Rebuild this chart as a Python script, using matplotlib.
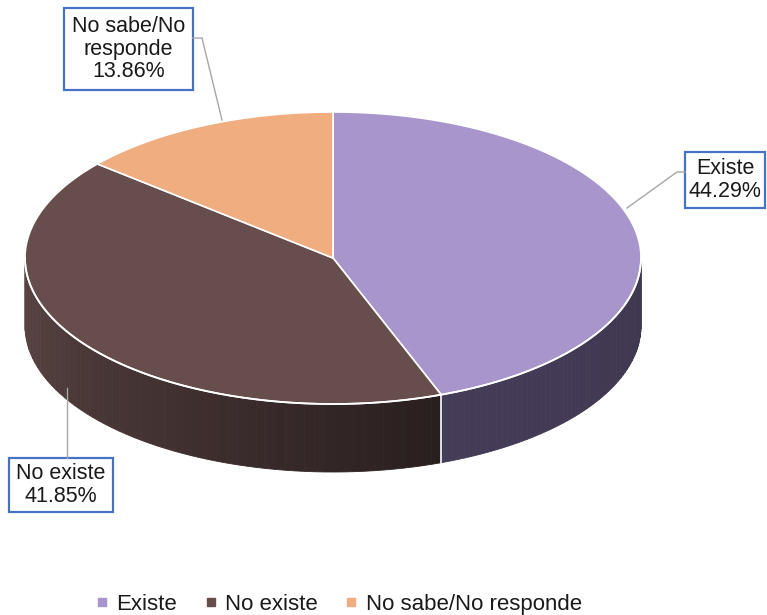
import numpy as np
import matplotlib.pyplot as plt
from matplotlib.patches import Polygon, Rectangle
from matplotlib.lines import Line2D
from matplotlib.colors import to_rgb

plt.rcParams['font.family'] = ['Liberation Sans', 'DejaVu Sans']

# data
categories = ['Existe', 'No existe', 'No sabe/No responde']
values = [44.29, 41.85, 13.86]
labels = ['Existe\n44.29%', 'No existe\n41.85%', 'No sabe/No\nresponde\n13.86%']
top_colors = ['#a895cc', '#674e4c', '#f0ad80']
side_colors = [('#453c58', '#3f3650'), ('#5a4544', '#2a1f1f'), ('#c08a66', '#a0704f')]

# geometry (pixels)
cx, cy, a, b, depth = 333, 258, 308, 146, 68


def pt(theta_deg, dy=0):
    t = np.radians(theta_deg)
    return cx + a * np.cos(t), cy - b * np.sin(t) + dy


fig = plt.figure(figsize=(7.67, 6.15), dpi=100)
ax = fig.add_axes([0, 0, 1, 1])
ax.set_xlim(0, 767)
ax.set_ylim(615, 0)
ax.axis('off')

# slice angles, clockwise from 12 o'clock
fracs = np.array(values) / sum(values)
starts = 90 - 360 * np.concatenate([[0], np.cumsum(fracs)[:-1]])
ends = starts - 360 * fracs

# side walls (front half only: theta between -180 and 0)
for i in range(len(values)):
    lo = max(ends[i], -180)
    hi = min(starts[i], 0)
    if lo >= hi:
        continue
    c1, c2 = np.array(to_rgb(side_colors[i][0])), np.array(to_rgb(side_colors[i][1]))
    n = 60
    ts = np.linspace(lo, hi, n + 1)
    for k in range(n):
        t0, t1 = ts[k], ts[k + 1]
        seg = np.linspace(t0, t1, 4)
        top = [pt(t) for t in seg]
        bot = [pt(t, depth) for t in seg[::-1]]
        # colour runs left to right across the wall
        f = k / (n - 1)
        col = c1 * (1 - f) + c2 * f
        ax.add_patch(Polygon(top + bot, closed=True, facecolor=col, edgecolor=col, lw=0.6))
    # divider line on the wall
    if -180 < hi < 0:
        x0, y0 = pt(hi)
        ax.plot([x0, x0], [y0, y0 + depth], color='white', lw=1.2)

# top face
for i in range(len(values)):
    ts = np.linspace(starts[i], ends[i], 200)
    verts = [(cx, cy)] + [pt(t) for t in ts]
    ax.add_patch(Polygon(verts, closed=True, facecolor=top_colors[i],
                         edgecolor='white', lw=1.2, joinstyle='round'))

# white rim along the front edge of the top face
ts = np.linspace(-180, 0, 300)
rim = np.array([pt(t) for t in ts])
ax.plot(rim[:, 0], rim[:, 1], color='white', lw=1.3)

# label boxes and leader lines
boxes = [(685, 152, 80, 56), (9, 458, 104, 54), (64, 8, 129, 82)]
leaders = [
    [(627, 208), (677, 172), (685, 172)],
    [(67, 388), (67, 458)],
    [(222, 120), (202, 38), (193, 38)],
]
for i in range(len(values)):
    lx, ly = zip(*leaders[i])
    ax.plot(lx, ly, color='#a6a6a6', lw=1)
    x, y, w, h = boxes[i]
    ax.add_patch(Rectangle((x, y), w, h, facecolor='white', edgecolor='#4472c4', lw=1.6))
    ax.text(x + w / 2, y + h / 2, labels[i], ha='center', va='center',
            fontsize=15.5, color='#1a1a1a', linespacing=1.1)

# legend
handles = [Line2D([], [], marker='s', ls='', markersize=6, color=c) for c in top_colors]
fig.legend(handles, categories, loc='lower center', bbox_to_anchor=(0.44, -0.032), ncol=3,
           frameon=False, fontsize=16, handletextpad=0.25, columnspacing=1.1,
           handlelength=0.8, labelcolor='#1a1a1a')

fig.savefig('out.png', dpi=100)
